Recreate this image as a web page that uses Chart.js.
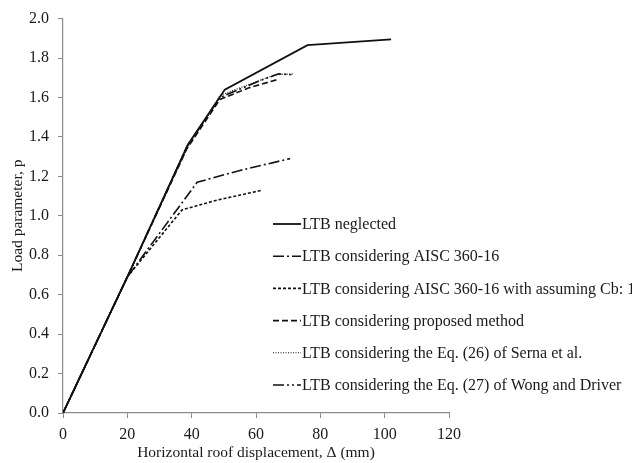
<!DOCTYPE html>
<html>
<head>
<meta charset="utf-8">
<script src="https://cdn.jsdelivr.net/npm/chart.js@4.4.0/dist/chart.umd.min.js"></script>
<style>
  html, body { margin: 0; padding: 0; background: #fff; }
  #wrap { width: 632px; height: 463px; }
</style>
</head>
<body>
<div id="wrap"><canvas id="c"></canvas></div>
<script>
// series: x = roof displacement (mm), y = load parameter p
const neglectedX = [0, 20, 38.8, 50.3, 76, 102];
const neglectedY = [0, 0.69, 1.36, 1.64, 1.865, 1.895];

const aiscX = [0, 20, 41.7, 55, 70.6];
const aiscY = [0, 0.69, 1.17, 1.23, 1.29];

const aiscCb1X = [0, 20, 37, 48, 62];
const aiscCb1Y = [0, 0.69, 1.03, 1.08, 1.13];

const proposedX = [0, 20, 38.5, 48.8, 58, 66.5];
const proposedY = [0, 0.69, 1.34, 1.59, 1.65, 1.69];

const sernaX = [0, 20, 38.5, 48.8, 60, 66, 71.5];
const sernaY = [0, 0.69, 1.34, 1.61, 1.68, 1.715, 1.72];

const wongX = [0, 20, 38.5, 48.8, 62, 67, 71.5];
const wongY = [0, 0.69, 1.35, 1.6, 1.69, 1.72, 1.715];

const xTicks = [0, 20, 40, 60, 80, 100, 120];
const yTicks = [0, 0.2, 0.4, 0.6, 0.8, 1.0, 1.2, 1.4, 1.6, 1.8, 2.0];

const labels = [
  'LTB neglected',
  'LTB considering AISC 360-16',
  'LTB considering AISC 360-16 with assuming Cb: 1',
  'LTB considering proposed method',
  'LTB considering the Eq. (26) of Serna et al.',
  'LTB considering the Eq. (27) of Wong and Driver'
];

function pts(xs, ys) {
  return xs.map((x, i) => ({x: x, y: ys[i]}));
}

const axisGrey = '#8a8a8a';
const serif = '"Liberation Serif", "Times New Roman", serif';

const styles = [
  {w: 1.8, dash: []},
  {w: 1.6, dash: [11, 3, 2, 3]},
  {w: 1.6, dash: [3, 2]},
  {w: 1.6, dash: [6, 3]},
  {w: 1.1, dash: [1, 1.5]},
  {w: 1.6, dash: [11, 3, 2, 3, 2, 3]}
];

const series = [
  pts(neglectedX, neglectedY),
  pts(aiscX, aiscY),
  pts(aiscCb1X, aiscCb1Y),
  pts(proposedX, proposedY),
  pts(sernaX, sernaY),
  pts(wongX, wongY)
];

// legend drawn by hand so the dash patterns show
const lineLegend = {
  id: 'lineLegend',
  afterDraw(chart) {
    const ctx = chart.ctx;
    const x0 = 273, x1 = 301, top = 224, step = 32.2;
    ctx.save();
    ctx.font = '16px ' + serif;
    ctx.textBaseline = 'middle';
    ctx.fillStyle = '#1a1a1a';
    chart.data.datasets.forEach((ds, i) => {
      const y = top + i * step;
      ctx.beginPath();
      ctx.setLineDash(ds.borderDash || []);
      ctx.lineWidth = ds.borderWidth;
      ctx.strokeStyle = '#111';
      ctx.moveTo(x0, y);
      ctx.lineTo(x1, y);
      ctx.stroke();
      ctx.setLineDash([]);
      ctx.fillText(ds.label, 302, y + 1);
    });
    ctx.restore();
  }
};

new Chart(document.getElementById('c').getContext('2d'), {
  type: 'scatter',
  data: {
    datasets: series.map((d, i) => ({
      label: labels[i],
      data: d,
      showLine: true,
      borderColor: '#111',
      backgroundColor: '#111',
      borderWidth: styles[i].w,
      borderDash: styles[i].dash,
      pointRadius: 0,
      tension: 0
    }))
  },
  options: {
    responsive: true,
    maintainAspectRatio: false,
    animation: false,
    layout: {padding: {left: 0, right: 183, top: 16, bottom: 0}},
    plugins: {legend: {display: false}, tooltip: {enabled: false}},
    scales: {
      x: {
        type: 'linear',
        min: 0, max: 120,
        afterFit(s) { s.height = 50; },
        afterBuildTicks(s) { s.ticks = xTicks.map(v => ({value: v})); },
        grid: {display: true, drawOnChartArea: false, drawTicks: true, tickLength: 5, color: axisGrey},
        border: {display: true, color: axisGrey, width: 1.2},
        ticks: {color: '#1a1a1a', font: {family: serif, size: 16}, padding: 7, maxRotation: 0},
        title: {display: true, text: 'Horizontal roof displacement, Δ (mm)', color: '#1a1a1a',
                font: {family: serif, size: 15.5}, padding: {top: 0, bottom: 1}}
      },
      y: {
        type: 'linear',
        min: 0, max: 2,
        afterFit(s) { s.width = 63; },
        afterBuildTicks(s) { s.ticks = yTicks.map(v => ({value: v})); },
        grid: {display: true, drawOnChartArea: false, drawTicks: true, tickLength: 5, color: axisGrey},
        border: {display: true, color: axisGrey, width: 1.2},
        ticks: {color: '#1a1a1a', font: {family: serif, size: 16}, padding: 9,
                callback: v => v.toFixed(1)},
        title: {display: true, text: 'Load parameter, p', color: '#1a1a1a',
                font: {family: serif, size: 15.5}, padding: {top: 9, bottom: 0}}
      }
    }
  },
  plugins: [lineLegend]
});
</script>
</body>
</html>
